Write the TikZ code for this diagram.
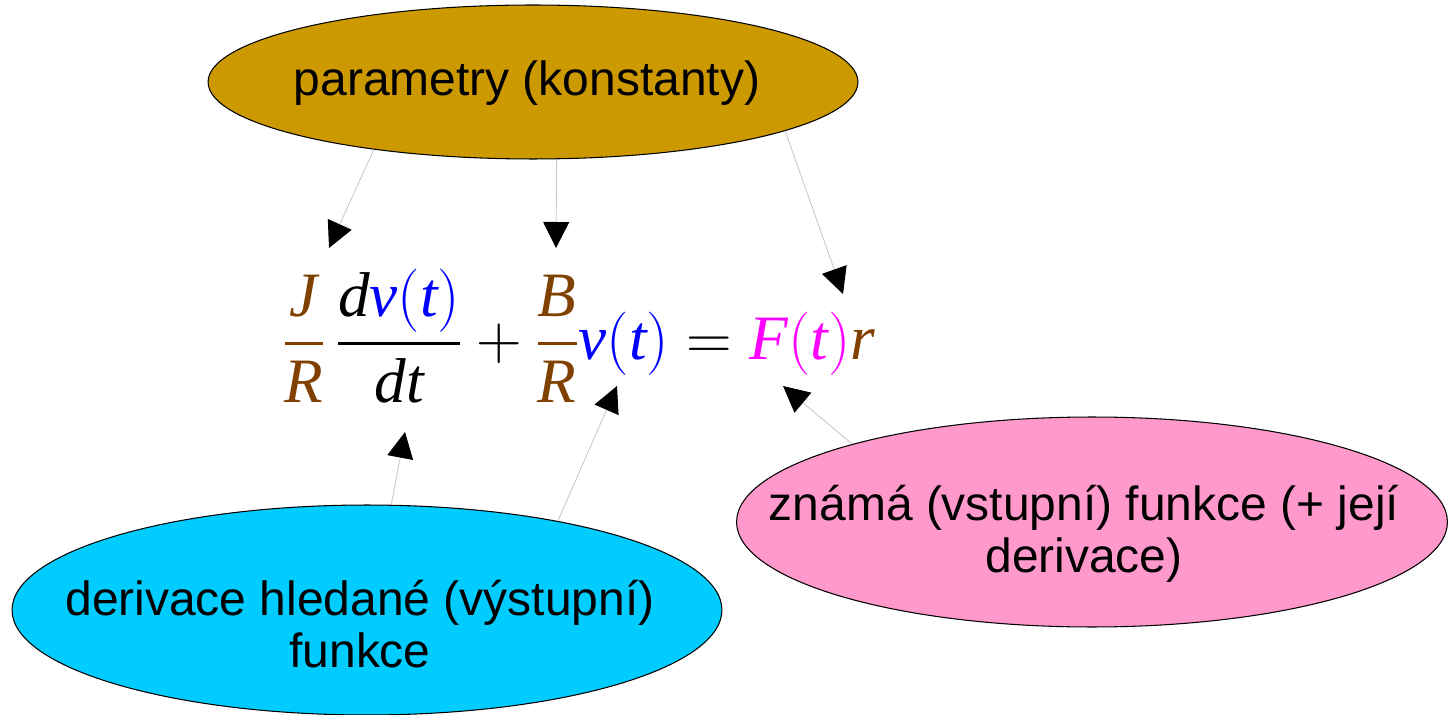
\documentclass[tikz,border=0pt]{standalone}
\usepackage{fix-cm}
\usepackage{amsmath}
\usepackage{fontspec}
\setmainfont{Liberation Serif}
\setsansfont{Liberation Sans}
\usetikzlibrary{arrows.meta,shapes.geometric}
\definecolor{gold}{RGB}{204,153,0}
\definecolor{sky}{RGB}{0,204,255}
\definecolor{rose}{RGB}{255,153,204}
\definecolor{brn}{RGB}{128,64,0}
\definecolor{blu}{RGB}{0,0,255}
\definecolor{mag}{RGB}{255,0,255}
\definecolor{lgray}{RGB}{200,200,200}
\newcommand\fr[2]{\genfrac{}{}{1.6pt}{0}{#1}{#2}}

\begin{document}
\begin{tikzpicture}[x=0.02cm,y=-0.02cm,
          el/.style={draw,ellipse,line width=0.6pt,inner sep=0pt},
          tx/.style={font=\fontsize{27.3}{29.6}\selectfont\sffamily,align=center,inner sep=0pt},
          arr/.style={-{Triangle[length=5.2mm,width=5.2mm,color=black]},lgray,line width=0.5pt}]
        \clip (0,0) rectangle (1452,715);
        % ellipses
        \node[el,fill=gold,minimum width=13cm,minimum height=3.08cm] (par) at (533,82) {};
        \node[el,fill=sky,minimum width=14.2cm,minimum height=4.2cm] (der) at (367,610) {};
        \node[el,fill=rose,minimum width=14.22cm,minimum height=4.2cm] (vst) at (1092,522) {};
        \node[tx] (partx) at (527,83) {parametry (konstanty)};
        \node[tx] (dertx) at (360,624) {derivace hledané (výstupní)\\funkce};
        \node[tx] (vsttx) at (1084,534) {známá (vstupní) funkce (+ její\\derivace)};
        % equation
        \node[inner sep=0pt,font=\fontsize{36}{42}\selectfont] (eq) at (579,336)
          {$\textcolor{brn}{\fr{\mathit{J}}{\mathit{R}}}\,\fr{\mathit{d}\textcolor{blu}{\mathit{v}(\mathit{t})}}{\mathit{dt}}
            +\textcolor{brn}{\fr{\mathit{B}}{\mathit{R}}}\textcolor{blu}{\mathit{v}(\mathit{t})}
            =\textcolor{mag}{\mathit{F}(\mathit{t})}\textcolor{brn}{\mathit{r}}$};
        \coordinate (pJ) at (329,248);
        \coordinate (pB) at (556,248);
        \coordinate (pr) at (843,294);
        \coordinate (pdv) at (405,432);
        \coordinate (pv) at (617,386);
        \coordinate (pF) at (783,386);
        % arrows
        \draw[arr] (par.203.5) -- (pJ);
        \draw[arr] (par.287) -- (pB);
        \draw[arr] (par.349.2) -- (pr);
        \draw[arr] (der.77.4) -- (pdv);
        \draw[arr] (der.25.3) -- (pv);
        \draw[arr] (vst.162.8) -- (pF);
      \end{tikzpicture}
\end{document}
